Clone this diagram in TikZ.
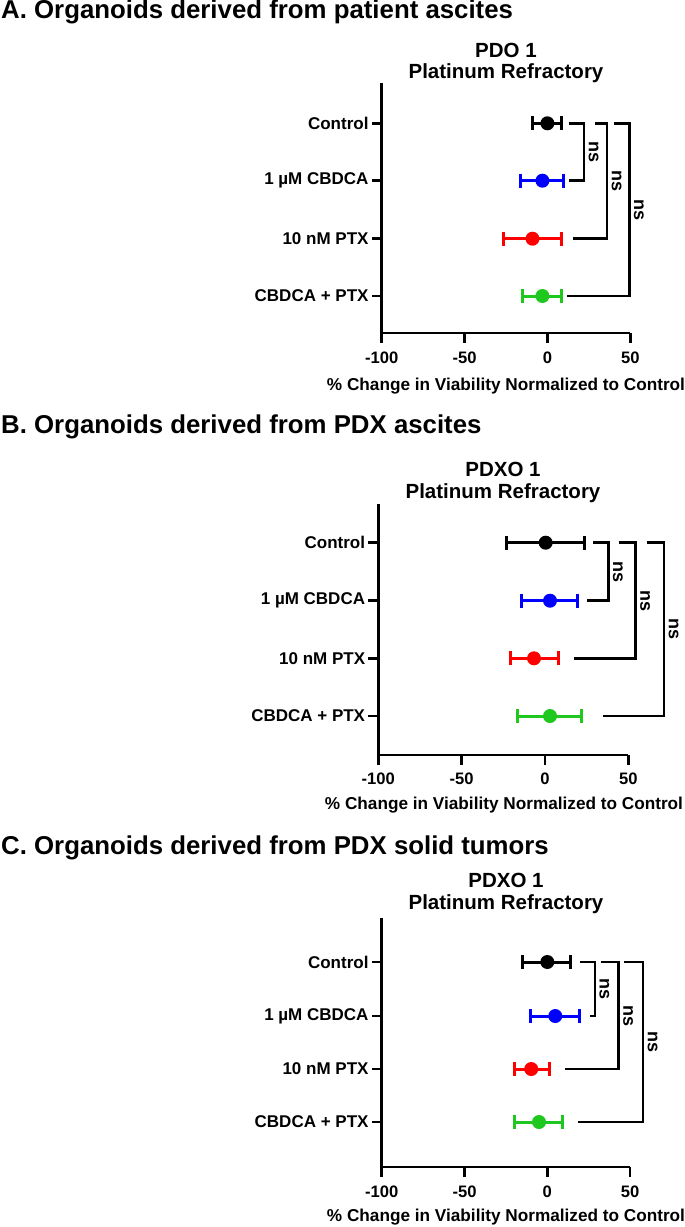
\documentclass[tikz,border=0pt]{standalone}
\usepackage{fontspec}
\setmainfont{Liberation Sans}
\usetikzlibrary{calc}
\definecolor{cbblue}{RGB}{0,0,255}
\definecolor{ptxred}{RGB}{255,0,0}
\definecolor{combgreen}{RGB}{30,200,30}

\begin{document}
\begin{tikzpicture}[x=1pt,y=-1pt,
		axisline/.style={line width=2.7pt},
		errbar/.style={line width=3pt},
		bracket/.style={line width=2.5pt},
		catlabel/.style={anchor=east, inner sep=0pt, font=\fontsize{17}{20}\selectfont\bfseries},
		ticklabel/.style={inner sep=0pt, font=\fontsize{16.6}{20}\selectfont\bfseries},
		axislabel/.style={inner sep=0pt, font=\fontsize{17.2}{20}\selectfont\bfseries},
		paneltitle/.style={anchor=west, inner sep=0pt, font=\fontsize{25.8}{30}\selectfont\bfseries},
		plottitle/.style={inner sep=0pt, font=\fontsize{20.5}{24}\selectfont\bfseries},
		nslabel/.style={rotate=-90, inner sep=0pt, font=\fontsize{18}{20}\selectfont\bfseries}
		]
		\useasboundingbox (0,0) rectangle (685,1227);
		
		% A. patient ascites
		\def\xo{381.7} \def\ku{1.657}
		\node[paneltitle](titleA) at (1,12){A. Organoids derived from patient ascites};
		\node[plottitle](A-sub1) at (506,50){PDO 1};
		\node[plottitle](A-sub2) at (506,73){Platinum Refractory};
		\coordinate (A-top) at (\xo,83);
		\coordinate (A-org) at (\xo,333);
		\coordinate (A-end) at ({\xo+150*\ku},333);
		\draw[axisline] (A-top) -- (A-org) -- (A-end);
		\foreach \t [count=\i] in {-100,-50,0,50}{
			\draw[axisline] ({\xo+(\t+100)*\ku},333) -- ++(0,10);
			\node[ticklabel](A-t\i) at ({\xo+(\t+100)*\ku},358){\t};
		}
		\node[axislabel](A-xlab) at (506,386){\% Change in Viability Normalized to Control};
		\foreach \lab/\y/\m/\lo/\hi/\col [count=\i] in {Control/123.3/0/-8.9/8.7/black,
			1 µM CBDCA/180.7/-3/-16.5/10/cbblue, 10 nM PTX/238.7/-9/-26.6/8.7/ptxred,
			CBDCA + PTX/296/-3/-15.1/8.7/combgreen}{
			\coordinate (A-r\i) at (\xo,\y);
			\draw[axisline] (A-r\i) -- ++(-10,0);
			\node[catlabel](A-l\i) at ($(A-r\i)+(-13,0)$){\lab};
			\draw[errbar,\col] ({\xo+(\lo+100)*\ku},\y) -- ({\xo+(\hi+100)*\ku},\y);
			\draw[errbar,\col] ({\xo+(\lo+100)*\ku},\y-7) -- ++(0,14);
			\draw[errbar,\col] ({\xo+(\hi+100)*\ku},\y-7) -- ++(0,14);
			\fill[\col] ({\xo+(\m+100)*\ku},\y) circle (7);
		}
		\foreach \s/\v/\e/\j [count=\i] in {13.3/22.1/13.3/2, 29/36/15.7/3, 40.3/49.5/12.1/4}{
			\coordinate (A-bs\i) at ($(A-r1)+({(\s+100)*\ku},0)$);
			\coordinate (A-bv\i) at ($(A-r\j)+({(\v+100)*\ku},0)$);
			\coordinate (A-be\i) at ($(A-r\j)+({(\e+100)*\ku},0)$);
			\draw[bracket] (A-bs\i) -| (A-bv\i) -- (A-be\i);
			\node[nslabel](A-ns\i) at ($(A-r1)!0.5!(A-r\j)+({(\v+100)*\ku+9.5},0)$){ns};
		}
		
		% B. PDX ascites
		\def\xo{378.3} \def\ku{1.667}
		\node[paneltitle](titleB) at (1,427){B. Organoids derived from PDX ascites};
		\node[plottitle](B-sub1) at (503,469){PDXO 1};
		\node[plottitle](B-sub2) at (503,493){Platinum Refractory};
		\coordinate (B-top) at (\xo,504);
		\coordinate (B-org) at (\xo,755);
		\coordinate (B-end) at ({\xo+150*\ku},755);
		\draw[axisline] (B-top) -- (B-org) -- (B-end);
		\foreach \t [count=\i] in {-100,-50,0,50}{
			\draw[axisline] ({\xo+(\t+100)*\ku},755) -- ++(0,10);
			\node[ticklabel](B-t\i) at ({\xo+(\t+100)*\ku},779){\t};
		}
		\node[axislabel](B-xlab) at (504,805){\% Change in Viability Normalized to Control};
		\foreach \lab/\y/\m/\lo/\hi/\col [count=\i] in {Control/542.7/0.4/-23/23.4/black,
			1 µM CBDCA/600.7/3/-14/19.4/cbblue, 10 nM PTX/658.3/-6.6/-20.6/7.8/ptxred,
			CBDCA + PTX/716/3/-16.6/21.8/combgreen}{
			\coordinate (B-r\i) at (\xo,\y);
			\draw[axisline] (B-r\i) -- ++(-10,0);
			\node[catlabel](B-l\i) at ($(B-r\i)+(-13,0)$){\lab};
			\draw[errbar,\col] ({\xo+(\lo+100)*\ku},\y) -- ({\xo+(\hi+100)*\ku},\y);
			\draw[errbar,\col] ({\xo+(\lo+100)*\ku},\y-7) -- ++(0,14);
			\draw[errbar,\col] ({\xo+(\hi+100)*\ku},\y-7) -- ++(0,14);
			\fill[\col] ({\xo+(\m+100)*\ku},\y) circle (7);
		}
		\foreach \s/\v/\e/\j [count=\i] in {29/38/25/2, 44.2/54.4/17.4/3, 61.4/71.4/34.6/4}{
			\coordinate (B-bs\i) at ($(B-r1)+({(\s+100)*\ku},0)$);
			\coordinate (B-bv\i) at ($(B-r\j)+({(\v+100)*\ku},0)$);
			\coordinate (B-be\i) at ($(B-r\j)+({(\e+100)*\ku},0)$);
			\draw[bracket] (B-bs\i) -| (B-bv\i) -- (B-be\i);
			\node[nslabel](B-ns\i) at ($(B-r1)!0.5!(B-r\j)+({(\v+100)*\ku+9.5},0)$){ns};
		}
		
		% C. PDX solid tumors
		\def\xo{381.7} \def\ku{1.656}
		\node[paneltitle](titleC) at (1,848){C. Organoids derived from PDX solid tumors};
		\node[plottitle](C-sub1) at (506,880){PDXO 1};
		\node[plottitle](C-sub2) at (506,904){Platinum Refractory};
		\coordinate (C-top) at (\xo,918);
		\coordinate (C-org) at (\xo,1167);
		\coordinate (C-end) at ({\xo+150*\ku},1167);
		\draw[axisline] (C-top) -- (C-org) -- (C-end);
		\foreach \t [count=\i] in {-100,-50,0,50}{
			\draw[axisline] ({\xo+(\t+100)*\ku},1167) -- ++(0,10);
			\node[ticklabel](C-t\i) at ({\xo+(\t+100)*\ku},1192){\t};
		}
		\node[axislabel](C-xlab) at (506,1217){\% Change in Viability Normalized to Control};
		\foreach \lab/\y/\m/\lo/\hi/\col [count=\i] in {Control/962/0/-14.7/14.1/black,
			1 µM CBDCA/1016/4.8/-10.3/19.5/cbblue, 10 nM PTX/1069/-9.7/-20.1/1.4/ptxred,
			CBDCA + PTX/1122/-5/-19.7/8.9/combgreen}{
			\coordinate (C-r\i) at (\xo,\y);
			\draw[axisline] (C-r\i) -- ++(-10,0);
			\node[catlabel](C-l\i) at ($(C-r\i)+(-13,0)$){\lab};
			\draw[errbar,\col] ({\xo+(\lo+100)*\ku},\y) -- ({\xo+(\hi+100)*\ku},\y);
			\draw[errbar,\col] ({\xo+(\lo+100)*\ku},\y-7) -- ++(0,14);
			\draw[errbar,\col] ({\xo+(\hi+100)*\ku},\y-7) -- ++(0,14);
			\fill[\col] ({\xo+(\m+100)*\ku},\y) circle (7);
		}
		\foreach \s/\v/\e/\j [count=\i] in {19.9/28.8/25.6/2, 32.4/43.1/10.9/3, 46.2/57.8/18.5/4}{
			\coordinate (C-bs\i) at ($(C-r1)+({(\s+100)*\ku},0)$);
			\coordinate (C-bv\i) at ($(C-r\j)+({(\v+100)*\ku},0)$);
			\coordinate (C-be\i) at ($(C-r\j)+({(\e+100)*\ku},0)$);
			\draw[bracket] (C-bs\i) -| (C-bv\i) -- (C-be\i);
			\node[nslabel](C-ns\i) at ($(C-r1)!0.5!(C-r\j)+({(\v+100)*\ku+9.5},0)$){ns};
		}
	\end{tikzpicture}
\end{document}
